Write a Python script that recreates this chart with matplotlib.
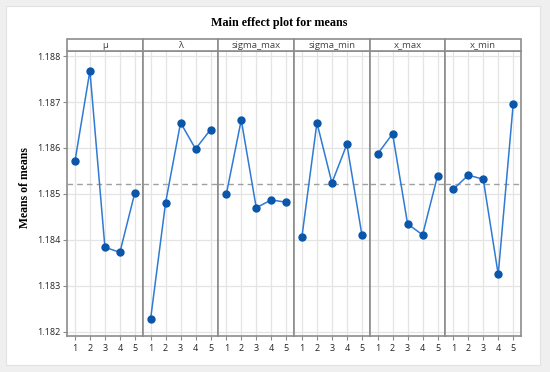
import matplotlib
matplotlib.use('Agg')
import matplotlib.pyplot as plt
from matplotlib.patches import Rectangle

factors = ['μ', 'λ', 'sigma_max', 'sigma_min', 'x_max', 'x_min']
levels = [1, 2, 3, 4, 5]
mu_means = [1.18571, 1.18768, 1.18384, 1.18373, 1.18503]
lam_means = [1.18228, 1.18481, 1.18655, 1.18598, 1.18640]
sigma_max_means = [1.18499, 1.18661, 1.18470, 1.18487, 1.18482]
sigma_min_means = [1.18407, 1.18655, 1.18524, 1.18608, 1.18411]
x_max_means = [1.18587, 1.18631, 1.18435, 1.18411, 1.18539]
x_min_means = [1.18510, 1.18541, 1.18532, 1.18325, 1.18696]
grand_mean = 1.18522
yticks = [1.182, 1.183, 1.184, 1.185, 1.186, 1.187, 1.188]

series = [mu_means, lam_means, sigma_max_means, sigma_min_means, x_max_means, x_min_means]

W, H = 550, 372
fig = plt.figure(figsize=(5.5, 3.72), dpi=100, facecolor='#efefef')
# white card inside the light frame
fig.patches.append(Rectangle((6 / W, 1 - 365 / H), 534 / W, 359 / H,
                             transform=fig.transFigure, facecolor='white',
                             edgecolor='#e2e2e2', linewidth=0.8, zorder=-5))

left, right, top, bottom = 67 / W, 521 / W, 1 - 51 / H, 1 - 336 / H
pw = (right - left) / 6
frame = '#8c8c8c'
strip_h = 12 / H
tickfont = ['Open Sans', 'DejaVu Sans']

for i, (name, vals) in enumerate(zip(factors, series)):
    ax = fig.add_axes([left + i * pw, bottom, pw, top - bottom])
    ax.set_facecolor('white')
    ax.plot(levels, vals, color='#2f7ad4', linewidth=1.1, zorder=3)
    ax.plot(levels, vals, 'o', color='#0a56aa', markersize=5, zorder=4)
    ax.axhline(grand_mean, color='#a0a0a0', linestyle=(0, (4, 3)), linewidth=1, zorder=2)
    ax.set_xlim(0.47, 5.52)
    ax.set_ylim(1.18191, 1.18811)
    ax.set_xticks(levels)
    ax.set_xticklabels([str(l) for l in levels], family=tickfont)
    ax.set_yticks(yticks)
    ax.grid(True, color='#e4e4e4', linewidth=0.9, zorder=0)
    ax.set_axisbelow(True)
    for s in ax.spines.values():
        s.set_color(frame)
        s.set_linewidth(1.2)
    ax.tick_params(axis='x', labelsize=6.5, length=3, width=0.8, color=frame,
                   pad=2.5, labelcolor='#222222')
    if i == 0:
        ax.set_yticklabels([f'{t:.3f}' for t in yticks], family=tickfont)
        ax.tick_params(axis='y', labelsize=6.5, length=3, width=0.8, color=frame,
                       pad=2, labelcolor='#222222')
        ax.set_ylabel('Means of means', family='Liberation Serif', fontweight='bold',
                      fontsize=8.5)
        ax.yaxis.set_label_coords(-0.48, 0.52)
    else:
        ax.tick_params(axis='y', left=False, labelleft=False)
    # facet strip
    ax.add_patch(Rectangle((0, 1), 1, strip_h / (top - bottom), transform=ax.transAxes,
                           facecolor='white', edgecolor=frame, linewidth=1.2,
                           clip_on=False, zorder=5))
    ax.text(0.5, 1 + strip_h / (top - bottom) / 2, name, transform=ax.transAxes,
            ha='center', va='center', fontsize=6.8, color='#444444', zorder=6,
            family=tickfont)

fig.text(279 / W, 1 - 23 / H, 'Main effect plot for means',
         ha='center', va='center', family='Liberation Serif', fontweight='bold',
         fontsize=8.7)

fig.savefig('out.png', dpi=100, facecolor=fig.get_facecolor())
